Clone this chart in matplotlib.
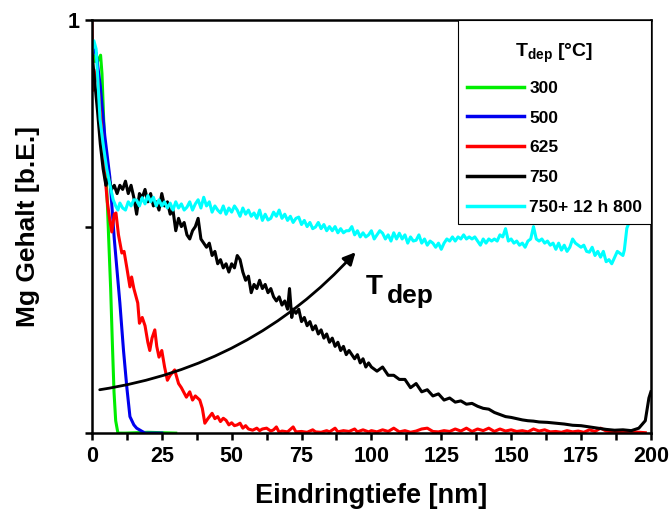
import matplotlib
matplotlib.use('Agg')
import matplotlib.pyplot as plt
import numpy as np
from matplotlib.ticker import MultipleLocator

plt.rcParams['font.family'] = ['Liberation Sans', 'DejaVu Sans']
plt.rcParams['font.weight'] = 'bold'
plt.rcParams['mathtext.fontset'] = 'custom'
plt.rcParams['mathtext.rm'] = 'Liberation Sans:bold'
plt.rcParams['mathtext.bf'] = 'Liberation Sans:bold'

# Mg content profiles (depth in nm, content in a.u.)
x300 = [0, 1, 2, 3.1, 3.6, 4.2, 4.8, 5.5, 6, 6.7, 7.3, 7.9, 8.5, 9.3, 12, 20, 30]
y300 = [0.93, 0.9, 0.9, 0.915, 0.87, 0.76, 0.66, 0.56, 0.47, 0.35, 0.22, 0.1, 0.03, 0.0, 0.0, 0.002, 0.0]

x500 = [0, 0.5, 1.5, 3, 4.6, 6.4, 8, 10, 11.3, 12.5, 13.6, 15, 16, 18, 19, 25]
y500 = [0.9, 0.93, 0.92, 0.84, 0.72, 0.62, 0.47, 0.315, 0.2, 0.11, 0.04, 0.02, 0.012, 0.004, 0.0, 0.0]

x625 = [0, 0.4, 1.8, 3.6, 4.6, 5.5, 6.3, 7.1, 8, 8.6, 9.5, 10.7, 11.5, 12.5, 13.6, 14.2, 15,
        16.4, 17, 18, 19, 20, 20.7, 21.5, 22.5, 23.2, 24, 25, 26, 27, 28, 29.6, 31, 32, 33.8,
        35, 36, 37, 38.6, 39.5, 40.4, 41.5, 43, 44, 45, 46, 47, 48, 49, 50, 51, 52, 53, 54, 55,
        56, 57.5, 59, 60, 61, 62.5, 64, 65, 66, 67, 68, 70, 72, 73, 75, 77, 79, 80, 82, 84, 85,
        87, 88, 90, 92, 94, 95, 97, 99, 100, 102, 104, 106, 108, 110, 112, 114, 116, 118, 120,
        122, 124, 126, 128, 130, 132, 134, 136, 138, 140, 142, 144, 146, 148, 150, 152, 154,
        156, 158, 160, 162, 164, 166, 168, 170, 172, 174, 176, 178, 180, 182, 184, 186, 188,
        190, 192, 194, 196, 198]
y625 = [1.0, 0.83, 0.88, 0.72, 0.63, 0.56, 0.52, 0.487, 0.53, 0.533, 0.48, 0.436, 0.44, 0.4,
        0.354, 0.378, 0.35, 0.315, 0.266, 0.28, 0.26, 0.22, 0.2, 0.23, 0.25, 0.21, 0.184, 0.2,
        0.16, 0.128, 0.14, 0.153, 0.12, 0.11, 0.087, 0.1, 0.08, 0.09, 0.08, 0.06, 0.024, 0.035,
        0.048, 0.035, 0.04, 0.028, 0.036, 0.031, 0.02, 0.025, 0.018, 0.02, 0.024, 0.012, 0.018,
        0.01, 0.007, 0.012, 0.006, 0.01, 0.012, 0.005, 0.008, 0.015, 0.002, 0.005, 0.003, 0.015,
        0.003, 0.004, 0.002, 0.008, 0.003, 0.002, 0.006, 0.003, 0.012, 0.003, 0.006, 0.004, 0.01,
        0.003, 0.008, 0.003, 0.006, 0.003, 0.008, 0.004, 0.012, 0.003, 0.006, 0.002, 0.005, 0.01,
        0.012, 0.004, 0.003, 0.006, 0.004, 0.01, 0.005, 0.012, 0.004, 0.01, 0.006, 0.012, 0.004,
        0.01, 0.005, 0.008, 0.004, 0.006, 0.003, 0.01, 0.005, 0.008, 0.003, 0.004, 0.002, 0.006,
        0.003, 0.005, 0.002, 0.008, 0.004, 0.012, 0.005, 0.003, 0.002, 0.004, 0.002, 0.003, 0.002,
        0.001]

x750 = [0, 1, 2, 3, 4, 5, 6, 7, 8, 9, 10, 11, 12, 13, 14, 15, 16, 17, 18, 19, 20, 21, 22, 23,
        24, 25, 26, 27, 28, 29, 30, 31, 32, 33, 34, 35, 36, 37, 38, 39, 40, 41, 42, 43, 44, 45,
        46, 47, 48, 49, 50, 51, 52, 53, 54, 55, 56, 57, 58, 59, 60, 61, 62, 63, 64, 65, 66, 67,
        68, 69, 70, 70.7, 71.5, 72, 73, 74, 75, 76, 77, 78, 79, 80, 81, 82, 83, 84, 85, 86, 87,
        88, 89, 90, 91, 92, 93, 94, 95, 96, 97, 98, 99, 100, 102, 104, 106, 108, 110, 112, 114,
        116, 118, 120, 122, 124, 126, 128, 130, 132, 134, 136, 138, 140, 142, 144, 146, 148, 150,
        152, 154, 156, 158, 160, 163, 166, 169, 172, 175, 178, 181, 184, 187, 190, 193, 195.7,
        198, 199.3, 200]
y750 = [0.92, 0.85, 0.78, 0.7, 0.64, 0.6, 0.62, 0.59, 0.6, 0.58, 0.6, 0.59, 0.61, 0.58, 0.6,
        0.57, 0.53, 0.58, 0.57, 0.59, 0.56, 0.58, 0.55, 0.56, 0.54, 0.58, 0.55, 0.56, 0.53, 0.54,
        0.49, 0.52, 0.5, 0.51, 0.48, 0.47, 0.49, 0.5, 0.52, 0.47, 0.46, 0.45, 0.46, 0.43, 0.44,
        0.41, 0.42, 0.4, 0.41, 0.39, 0.41, 0.4, 0.43, 0.42, 0.39, 0.37, 0.38, 0.34, 0.36, 0.35,
        0.37, 0.35, 0.36, 0.34, 0.35, 0.33, 0.32, 0.33, 0.31, 0.32, 0.3, 0.35, 0.28, 0.3, 0.29,
        0.3, 0.27, 0.28, 0.26, 0.27, 0.25, 0.26, 0.24, 0.25, 0.23, 0.24, 0.22, 0.23, 0.21, 0.22,
        0.2, 0.21, 0.19, 0.2, 0.19, 0.18, 0.19, 0.17, 0.18, 0.16, 0.17, 0.16, 0.15, 0.16, 0.14,
        0.14, 0.13, 0.13, 0.11, 0.12, 0.1, 0.105, 0.09, 0.095, 0.08, 0.085, 0.075, 0.078, 0.07,
        0.072, 0.065, 0.06, 0.058, 0.05, 0.045, 0.04, 0.038, 0.035, 0.032, 0.03, 0.029, 0.027,
        0.026, 0.024, 0.022, 0.019, 0.018, 0.015, 0.012, 0.009, 0.007, 0.008, 0.006, 0.012, 0.03,
        0.085, 0.1]

x800 = [0, 0.7, 1.5, 2.9, 4, 5.3, 6.5, 7.6, 8.5, 9.3] + list(range(10, 191)) + [190.5, 191.4, 192.8, 194, 196]
y800 = [0.92, 0.95, 0.93, 0.76, 0.7, 0.64, 0.6, 0.565, 0.55, 0.54,
        0.557, 0.545, 0.54, 0.56, 0.55, 0.565, 0.564, 0.55, 0.57, 0.555, 0.575, 0.56, 0.571, 0.55,
        0.565, 0.55, 0.56, 0.545, 0.557, 0.54, 0.56, 0.545, 0.555, 0.54, 0.547, 0.56, 0.54, 0.555,
        0.565, 0.545, 0.571, 0.55, 0.56, 0.535, 0.55, 0.54, 0.533, 0.55, 0.53, 0.545, 0.535, 0.55,
        0.54, 0.525, 0.545, 0.53, 0.54, 0.525, 0.533, 0.52, 0.54, 0.515, 0.53, 0.516, 0.52, 0.535,
        0.525, 0.54, 0.52, 0.53, 0.515, 0.525, 0.51, 0.52, 0.523, 0.505, 0.515, 0.5, 0.51, 0.495,
        0.499, 0.51, 0.495, 0.505, 0.49, 0.5, 0.49, 0.5, 0.485, 0.495, 0.485, 0.49, 0.49, 0.5,
        0.48, 0.49, 0.475, 0.485, 0.475, 0.48, 0.49, 0.47, 0.48, 0.49, 0.484, 0.47, 0.48, 0.465,
        0.485, 0.47, 0.484, 0.47, 0.48, 0.46, 0.475, 0.465, 0.467, 0.48, 0.46, 0.47, 0.455, 0.465,
        0.46, 0.45, 0.46, 0.445, 0.46, 0.47, 0.465, 0.475, 0.465, 0.475, 0.47, 0.48, 0.47, 0.475,
        0.47, 0.475, 0.465, 0.455, 0.47, 0.46, 0.47, 0.465, 0.47, 0.465, 0.48, 0.475, 0.495, 0.465,
        0.47, 0.46, 0.465, 0.455, 0.46, 0.45, 0.465, 0.47, 0.5, 0.47, 0.465, 0.47, 0.46, 0.465,
        0.455, 0.46, 0.445, 0.46, 0.443, 0.455, 0.44, 0.45, 0.47, 0.46, 0.455, 0.45, 0.455, 0.44,
        0.438, 0.45, 0.43, 0.44, 0.426, 0.44, 0.415, 0.42, 0.41, 0.425, 0.44, 0.435, 0.43,
        0.443, 0.496, 0.52, 0.58, 0.65]

series = [
    (x300, y300, '#00ee00', '300'),
    (x500, y500, '#0000ee', '500'),
    (x625, y625, '#ff0000', '625'),
    (x750, y750, '#000000', '750'),
    (x800, y800, '#00ffff', '750+ 12 h 800'),
]

fig = plt.figure(figsize=(6.71, 5.15), dpi=100)
ax = fig.add_axes([0.137, 0.159, 0.833, 0.802])

for xs, ys, c, lab in series:
    ax.plot(xs, ys, color=c, lw=2.2, label=lab)

ax.set_xlim(0, 200)
ax.set_ylim(0, 1)
ax.xaxis.set_major_locator(MultipleLocator(25))
ax.xaxis.set_minor_locator(MultipleLocator(12.5))
ax.set_yticks([0, 0.5, 1])
ax.set_yticklabels(['', '', '1'])
ax.tick_params(axis='both', which='both', direction='out', length=5, width=1.8,
               labelsize=15.5, pad=4)
for s in ax.spines.values():
    s.set_linewidth(1.8)

ax.set_xlabel('Eindringtiefe [nm]', fontsize=19.5, fontweight='bold', labelpad=12)
ax.set_ylabel('Mg Gehalt [b.E.]', fontsize=19, fontweight='bold', labelpad=20)

# curved arrow with T_dep label
ax.annotate('', xy=(95, 0.443), xytext=(1.8, 0.104),
            arrowprops=dict(arrowstyle='-|>', color='black', lw=2.0,
                            mutation_scale=18,
                            connectionstyle='arc3,rad=0.18'))
ax.text(98, 0.338, 'T', fontsize=20, fontweight='bold', ha='left', va='baseline')
ax.annotate('dep', xy=(98, 0.338), xytext=(15, -7), textcoords='offset points',
            fontsize=19, fontweight='bold', ha='left', va='baseline')

leg = ax.legend(loc='upper right', bbox_to_anchor=(1, 1), borderaxespad=0,
                title='\n' + r'$\mathbf{T_{dep}}$ [°C]',
                title_fontproperties={'weight': 'bold', 'size': 14},
                handlelength=3.3, handletextpad=0.3, borderpad=0.5,
                labelspacing=0.85, fancybox=False, framealpha=1,
                edgecolor='black', prop={'weight': 'bold', 'size': 12.5})
leg.get_title().set_linespacing(0.75)
leg.get_frame().set_linewidth(0.8)
leg._legend_box.sep = 11
for line in leg.get_lines():
    line.set_linewidth(2.5)

plt.savefig('out.png', dpi=100)
